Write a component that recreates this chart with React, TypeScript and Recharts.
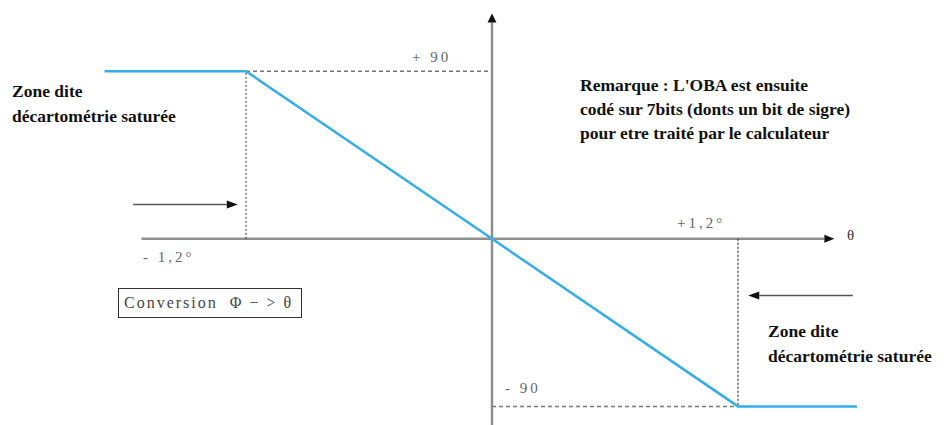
import React from 'react'
import { LineChart, Line, XAxis, YAxis, ReferenceLine } from 'recharts'

// blue transfer curve (theta -> phi), saturated outside +-1.2
const thetaPts = [-1.89, -1.2, 1.2, 1.78]
const phiPts = [90, 90, -90, -90]

// saturation limits and axis ends
const satTheta = 1.2
const satPhi = 90
const xAxisEnds = [-1.71, 1.67]
const yAxisEnds = [-100, 121]

// the two "zone" arrows: [from, to, level]
const leftArrow = [-1.75, -1.24, 18.5]
const rightArrow = [1.76, 1.25, -30.5]

const tickLabels = { plus90: '+ 90', minus90: '- 90', minusSat: '- 1,2°', plusSat: '+1,2°' }
const zoneText = ['Zone dite', 'décartométrie saturée']
const noteText = [
    "Remarque : L'OBA est ensuite",
    'codé sur 7bits (donts un bit de sigre)',
    'pour etre traité par le calculateur',
]
const boxText = 'Conversion  Φ − > θ'

const data = thetaPts.map((t, i) => ({ theta: t, phi: phiPts[i] }))

const arrowLine = (color: string, width: number, head: number, halfW: number) => (p: any) => {
    const { x1, y1, x2, y2 } = p
    const len = Math.hypot(x2 - x1, y2 - y1) || 1
    const ux = (x2 - x1) / len
    const uy = (y2 - y1) / len
    const bx = x2 - ux * head
    const by = y2 - uy * head
    const pts = `${x2},${y2} ${bx - uy * halfW},${by + ux * halfW} ${bx + uy * halfW},${by - ux * halfW}`
    return (
        <g>
            <line x1={x1} y1={y1} x2={bx} y2={by} stroke={color} strokeWidth={width} />
            <polygon points={pts} fill="#111" />
        </g>
    )
}

const serif = '"Liberation Serif", "Times New Roman", serif'
const greyLabel: React.CSSProperties = {
    position: 'absolute',
    fontFamily: serif,
    fontSize: 15,
    lineHeight: '18px',
    color: '#666',
    letterSpacing: 3,
    whiteSpace: 'nowrap',
}
const boldBlock: React.CSSProperties = {
    position: 'absolute',
    fontFamily: serif,
    fontWeight: 700,
    fontSize: 17.5,
    lineHeight: '25px',
    color: '#111',
    whiteSpace: 'nowrap',
}

const App = () => {
    return (
        <div style={{ position: 'relative', width: 945, height: 425, background: '#fff' }}>
            <style>{'body{margin:0}'}</style>
            <LineChart width={945} height={425} data={data} margin={{ top: 8, right: 2, bottom: 0, left: 0 }}>
                <XAxis type="number" dataKey="theta" domain={[-2.4, 2.2]} allowDataOverflow hide />
                <YAxis type="number" domain={[-100, 124]} allowDataOverflow hide />

                {/* axes */}
                <ReferenceLine
                    segment={[{ x: xAxisEnds[0], y: 0 }, { x: xAxisEnds[1], y: 0 }]}
                    shape={arrowLine('#8f8f8f', 2.5, 10, 4)}
                />
                <ReferenceLine
                    segment={[{ x: 0, y: yAxisEnds[0] }, { x: 0, y: yAxisEnds[1] }]}
                    shape={arrowLine('#8f8f8f', 2.5, 9, 4.5)}
                />

                {/* saturation guides */}
                <ReferenceLine
                    segment={[{ x: -satTheta, y: satPhi }, { x: 0, y: satPhi }]}
                    stroke="#777"
                    strokeWidth={1.5}
                    strokeDasharray="4 3"
                />
                <ReferenceLine
                    segment={[{ x: 0, y: -satPhi }, { x: satTheta, y: -satPhi }]}
                    stroke="#777"
                    strokeWidth={1.5}
                    strokeDasharray="4 3"
                />
                <ReferenceLine
                    segment={[{ x: -satTheta, y: 0 }, { x: -satTheta, y: satPhi }]}
                    stroke="#333"
                    strokeWidth={1}
                    strokeDasharray="2 2"
                />
                <ReferenceLine
                    segment={[{ x: satTheta, y: 0 }, { x: satTheta, y: -satPhi }]}
                    stroke="#333"
                    strokeWidth={1.2}
                    strokeDasharray="2 2"
                />

                {/* zone arrows */}
                <ReferenceLine
                    segment={[{ x: leftArrow[0], y: leftArrow[2] }, { x: leftArrow[1], y: leftArrow[2] }]}
                    shape={arrowLine('#555', 1.5, 11, 4)}
                />
                <ReferenceLine
                    segment={[{ x: rightArrow[0], y: rightArrow[2] }, { x: rightArrow[1], y: rightArrow[2] }]}
                    shape={arrowLine('#555', 1.5, 11, 4)}
                />

                <Line
                    type="linear"
                    dataKey="phi"
                    stroke="#35ade6"
                    strokeWidth={2.5}
                    dot={false}
                    activeDot={false}
                    isAnimationActive={false}
                />
            </LineChart>

            <div style={{ ...greyLabel, left: 412, top: 48 }}>{tickLabels.plus90}</div>
            <div style={{ ...greyLabel, left: 505, top: 379 }}>{tickLabels.minus90}</div>
            <div style={{ ...greyLabel, left: 143, top: 248 }}>{tickLabels.minusSat}</div>
            <div style={{ ...greyLabel, left: 677, top: 214 }}>{tickLabels.plusSat}</div>
            <div style={{ ...greyLabel, left: 847, top: 226, color: '#333', letterSpacing: 0 }}>θ</div>

            <div style={{ ...boldBlock, left: 12, top: 79 }}>
                {zoneText.map(t => <div key={t}>{t}</div>)}
            </div>
            <div style={{ ...boldBlock, left: 768, top: 319 }}>
                {zoneText.map(t => <div key={t}>{t}</div>)}
            </div>
            <div style={{ ...boldBlock, left: 580, top: 73, lineHeight: '24px' }}>
                {noteText.map(t => <div key={t}>{t}</div>)}
            </div>

            <div
                style={{
                    position: 'absolute',
                    left: 118,
                    top: 288,
                    width: 184,
                    height: 30,
                    boxSizing: 'border-box',
                    border: '1.5px solid #333',
                    fontFamily: serif,
                    fontSize: 16,
                    lineHeight: '27px',
                    color: '#444',
                    letterSpacing: 2,
                    paddingLeft: 5,
                    whiteSpace: 'pre',
                }}
            >
                {boxText}
            </div>
        </div>
    )
}

export default App
